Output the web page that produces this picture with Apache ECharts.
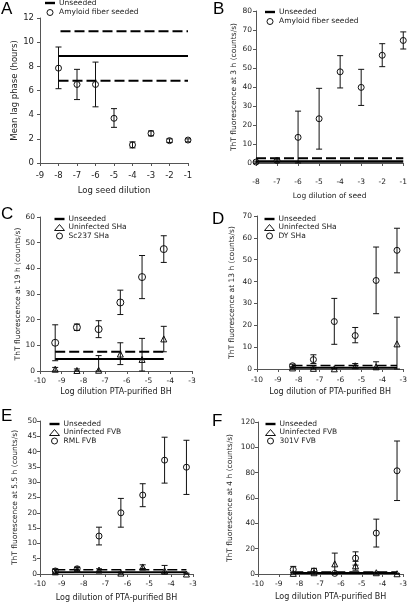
<!DOCTYPE html>
<html><head><meta charset="utf-8">
<script src="https://cdn.jsdelivr.net/npm/echarts@6/dist/echarts.min.js"></script>
<style>html,body{margin:0;padding:0;background:#fff}#c{width:410px;height:603px}</style>
</head><body><div id="c"></div>
<script>
// ---- Panel A ----
const aX = [-8,-7,-6,-5,-4,-3,-2,-1];
const aSeeded = [7.85,6.5,6.5,3.7,1.5,2.45,1.85,1.9];
const aSeededLow = [6.15,5.25,4.65,2.95,1.25,2.25,1.7,1.75];
const aSeededHigh = [9.6,7.75,8.35,4.5,1.75,2.65,2.0,2.0];
const aUnseededX = [-8,-1];
const aUnseeded = [8.85, 6.8, 10.9]; // mean, lower, upper
// ---- Panel B ----
const bX = [-8,-7,-6,-5,-4,-3,-2,-1];
const bSeeded = [0.5,1.3,13.5,23.3,48,39.8,56.7,64.5];
const bSeededLow = [0,0.5,0,7.3,39.5,30.3,50.7,60];
const bSeededHigh = [1,2,27.3,39.3,56.5,49.3,62.8,69];
const bUnseededX = [-8,-1];
const bUnseeded = [0.8, 2.5];
// ---- Panel C ----
const cX = [-9.3,-8.3,-7.3,-6.3,-5.3,-4.3];
const cSc237 = [11,17,16.3,26.7,36.6,47.5];
const cSc237Low = [4,15.8,13,22,28.2,42.3];
const cSc237High = [18,18.3,19.6,31.5,45,52.7];
const cUninf = [0.7,0.2,0.3,6.6,4.5,12.5];
const cUninfLow = [0,0,0,2.5,0,7.5];
const cUninfHigh = [1.4,0.8,6,11,12.7,17.4];
const cUnseededX = [-9.3,-4.3];
const cUnseeded = [4.7, 7.5];
// ---- Panel D ----
const dX = [-8.3,-7.3,-6.3,-5.3,-4.3,-3.3];
const dDY = [1.5,4.3,21.7,15.3,40.5,54.3];
const dDYLow = [0.5,2.5,11.3,12,25.3,44];
const dDYHigh = [2.2,6.5,32.3,19,55.8,64.4];
const dUninf = [0.5,0.3,0.1,1.5,1,11.5];
const dUninfLow = [0,0,0,0.5,0,0];
const dUninfHigh = [1,0.8,0.3,2.5,3.3,23.7];
const dUnseededX = [-8.3,-3.3];
const dUnseeded = [0.6, 1.6];
// ---- Panel E ----
const eX = [-9.3,-8.3,-7.3,-6.3,-5.3,-4.3,-3.3];
const eRML = [1.0,1.7,12.4,20,25.8,37.2,34.9];
const eRMLLow = [0.3,1.0,9.5,15.3,22,29.7,26];
const eRMLHigh = [1.7,2.2,15.3,24.7,29.5,44.7,43.7];
const eUninf = [0.7,1.5,1.3,0.3,2.3,1,0];
const eUninfLow = [0,0.9,0.9,0,1.8,0,0];
const eUninfHigh = [1.5,2.2,1.7,0.6,3,2.8,0.3];
const eUnseededX = [-9.3,-3.3];
const eUnseeded = [0.6, 1.4];
// ---- Panel F ----
const fX = [-8.3,-7.3,-6.3,-5.3,-4.3,-3.3];
const f301V = [3.5,2.3,0.5,12.5,32.3,81.5];
const f301VLow = [1,0.5,0,7,21.3,58];
const f301VHigh = [6,4.5,1,17.5,43.3,105];
const fUninf = [0.5,1,8,6.5,1,0.2];
const fUninfLow = [0,0,0,3,0,0];
const fUninfHigh = [1,1.5,16.5,10,1.5,0.5];
const fUnseededX = [-8.3,-3.3];
const fUnseeded = [0.8, 1.6];

const FONT = 'DejaVu Sans';
const AX = '#555';
const LINEICON = 'path://M0,0H10V2.4H0Z';

const grids = [
  {left:40, top:18, width:148, height:145},
  {left:256, top:11, width:152, height:152},
  {left:40, top:217, width:152, height:154},
  {left:257, top:216, width:148, height:153},
  {left:40, top:421, width:153, height:153},
  {left:258, top:422, width:147, height:152}
];

function xAxis(i, min, max, name, gap, margin, fs, nfs) {
  return {type:'value', gridIndex:i, min:min, max:max, interval:1,
    name:name, nameLocation:'middle', nameGap:gap,
    nameTextStyle:{fontFamily:FONT, fontSize:nfs, color:'#222'},
    axisLine:{onZero:false, lineStyle:{color:AX, width:1}},
    axisTick:{show:true, length:3, lineStyle:{color:AX}},
    splitLine:{show:false},
    axisLabel:{fontFamily:FONT, fontSize:fs, color:'#222', margin:margin}};
}
function yAxis(i, max, interval, name, gap, margin, fs, nfs) {
  return {type:'value', gridIndex:i, min:0, max:max, interval:interval,
    name:name, nameLocation:'middle', nameGap:gap,
    nameTextStyle:{fontFamily:FONT, fontSize:nfs, color:'#222'},
    axisLine:{show:true, onZero:false, lineStyle:{color:AX, width:1}},
    axisTick:{show:true, length:3, lineStyle:{color:AX}},
    splitLine:{show:false},
    axisLabel:{fontFamily:FONT, fontSize:fs, color:'#222', margin:margin}};
}
function errBars(i, xs, lo, hi, name) {
  return {type:'custom', name:name, xAxisIndex:i, yAxisIndex:i, z:3, clip:false,
    data: xs.map((v,k)=>[v, lo[k], hi[k]]),
    encode:{x:0, y:[1,2]},
    renderItem:function(params, api){
      const p1 = api.coord([api.value(0), api.value(1)]);
      const p2 = api.coord([api.value(0), api.value(2)]);
      const w = 3, st = {stroke:'#111', lineWidth:1};
      return {type:'group', children:[
        {type:'line', shape:{x1:p1[0],y1:p1[1],x2:p2[0],y2:p2[1]}, style:st},
        {type:'line', shape:{x1:p1[0]-w,y1:p1[1],x2:p1[0]+w,y2:p1[1]}, style:st},
        {type:'line', shape:{x1:p2[0]-w,y1:p2[1],x2:p2[0]+w,y2:p2[1]}, style:st}
      ]};
    }};
}
function pts(i, xs, ys, name, symbol, size) {
  return {type:'scatter', name:name, xAxisIndex:i, yAxisIndex:i, z:5, clip:false,
    symbol:symbol, symbolSize:size,
    itemStyle:{color:'rgba(255,255,255,0)', borderColor:'#111', borderWidth:1, opacity:1},
    data: xs.map((v,k)=>[v, ys[k]])};
}
function hline(i, xr, y, name, dashed, width, offset) {
  return {type:'line', name:name, xAxisIndex:i, yAxisIndex:i, z:4, symbol:'none', silent:true,
    color:'#000',
    lineStyle:{color:'#000', width:width, type: dashed ? [10,4] : 'solid', dashOffset: offset||0},
    data:[[xr[0], y],[xr[1], y]]};
}
function legend(left, top, names, gap) {
  return {left:left, top:top, orient:'vertical', padding:0, itemWidth:10, itemHeight:6, itemGap:gap,
    selectedMode:false,
    itemStyle:{borderWidth:1},
    textStyle:{fontFamily:FONT, fontSize:7.5, color:'#222', padding:[0,0,0,-1]},
    data: names.map((n,k)=> k===0 ? {name:n, icon:LINEICON} : {name:n})};
}

const series = [
  // A
  hline(0, aUnseededX, aUnseeded[0], 'Unseeded', false, 2),
  hline(0, aUnseededX, aUnseeded[1], 'Unseeded range', true, 2, 0),
  hline(0, aUnseededX, aUnseeded[2], 'Unseeded range', true, 2, 12),
  errBars(0, aX, aSeededLow, aSeededHigh, 'A error'),
  pts(0, aX, aSeeded, 'Amyloid fiber seeded', 'circle', 6),
  // B
  hline(1, bUnseededX, bUnseeded[0], 'Unseeded', false, 2.5),
  hline(1, bUnseededX, bUnseeded[1], 'Unseeded range', true, 2),
  errBars(1, bX, bSeededLow, bSeededHigh, 'B error'),
  pts(1, bX, bSeeded, 'Amyloid fiber seeded', 'circle', 6),
  // C
  hline(2, cUnseededX, cUnseeded[0], 'Unseeded', false, 2),
  hline(2, cUnseededX, cUnseeded[1], 'Unseeded range', true, 2),
  errBars(2, cX, cUninfLow, cUninfHigh, 'C error 1'),
  errBars(2, cX, cSc237Low, cSc237High, 'C error 2'),
  pts(2, cX, cUninf, 'Uninfected SHa', 'triangle', 6),
  pts(2, cX, cSc237, 'Sc237 SHa', 'circle', 7),
  // D
  hline(3, dUnseededX, dUnseeded[0], 'Unseeded', false, 2),
  hline(3, dUnseededX, dUnseeded[1], 'Unseeded range', true, 1.5),
  errBars(3, dX, dUninfLow, dUninfHigh, 'D error 1'),
  errBars(3, dX, dDYLow, dDYHigh, 'D error 2'),
  pts(3, dX, dUninf, 'Uninfected SHa', 'triangle', 6),
  pts(3, dX, dDY, 'DY SHa', 'circle', 6),
  // E
  hline(4, eUnseededX, eUnseeded[0], 'Unseeded', false, 2),
  hline(4, eUnseededX, eUnseeded[1], 'Unseeded range', true, 1.5),
  errBars(4, eX, eUninfLow, eUninfHigh, 'E error 1'),
  errBars(4, eX, eRMLLow, eRMLHigh, 'E error 2'),
  pts(4, eX, eUninf, 'Uninfected FVB', 'triangle', 6),
  pts(4, eX, eRML, 'RML FVB', 'circle', 6),
  // F
  hline(5, fUnseededX, fUnseeded[0], 'Unseeded', false, 2),
  hline(5, fUnseededX, fUnseeded[1], 'Unseeded range', true, 1.5),
  errBars(5, fX, fUninfLow, fUninfHigh, 'F error 1'),
  errBars(5, fX, f301VLow, f301VHigh, 'F error 2'),
  pts(5, fX, fUninf, 'Uninfected FVB', 'triangle', 6),
  pts(5, fX, f301V, '301V FVB', 'circle', 6)
];

const letterStyle = (t,x,y)=>({type:'text', left:x, top:y, style:{text:t, font:'17px "Liberation Sans", Arial', fill:'#000'}});

const option = {
  animation:false,
  backgroundColor:'#fff',
  grid: grids,
  xAxis: [
    xAxis(0, -9, -1, 'Log seed dilution', 23, 8, 8.5, 8.5),
    xAxis(1, -8, -1, 'Log dilution of seed', 29, 15, 7.5, 7.5),
    xAxis(2, -10, -3, 'Log dilution PTA-purified BH', 17, 6, 7.5, 8),
    xAxis(3, -10, -3, 'Log dilution of PTA-purified BH', 19, 7, 7.5, 8),
    xAxis(4, -10, -3, 'Log dilution of PTA-purified BH', 20, 6, 7.5, 8),
    xAxis(5, -10, -3, 'Log dilution PTA-purified BH', 19, 6, 7.5, 8)
  ],
  yAxis: [
    yAxis(0, 12, 2, 'Mean lag phase (hours)', 19, 6, 8.5, 8.5),
    yAxis(1, 80, 10, 'ThT fluorescence at 3 h (counts/s)', 18, 4, 7.5, 7.5),
    yAxis(2, 60, 10, 'ThT fluorescence at 19 h (counts/s)', 16, 5, 7.5, 7.5),
    yAxis(3, 70, 10, 'ThT fluorescence at 13 h (counts/s)', 21, 5, 7.5, 7.5),
    yAxis(4, 50, 5, 'ThT fluorescence at 5.5 h (counts/s)', 21, 3, 7.5, 7.5),
    yAxis(5, 120, 20, 'ThT fluorescence at 4 h (counts/s)', 24, 3, 7.5, 7.5)
  ],
  legend: [
    legend(45, -1, ['Unseeded','Amyloid fiber seeded'], 1.5),
    legend(265, 8, ['Unseeded','Amyloid fiber seeded'], 1.5),
    legend(54, 215, ['Unseeded','Uninfected SHa','Sc237 SHa'], 0.5),
    legend(264, 215, ['Unseeded','Uninfected SHa','DY SHa'], 0.5),
    legend(49, 420, ['Unseeded','Uninfected FVB','RML FVB'], 0.5),
    legend(265, 420, ['Unseeded','Uninfected FVB','301V FVB'], 0.5)
  ],
  graphic: [
    letterStyle('A', 1, 1), letterStyle('B', 213, 1),
    letterStyle('C', 1, 206), letterStyle('D', 212, 211),
    letterStyle('E', 1, 408), letterStyle('F', 212, 413)
  ],
  series: series
};
const chart = echarts.init(document.getElementById('c'), null, {renderer:'canvas'});
chart.setOption(option);
</script></body></html>
